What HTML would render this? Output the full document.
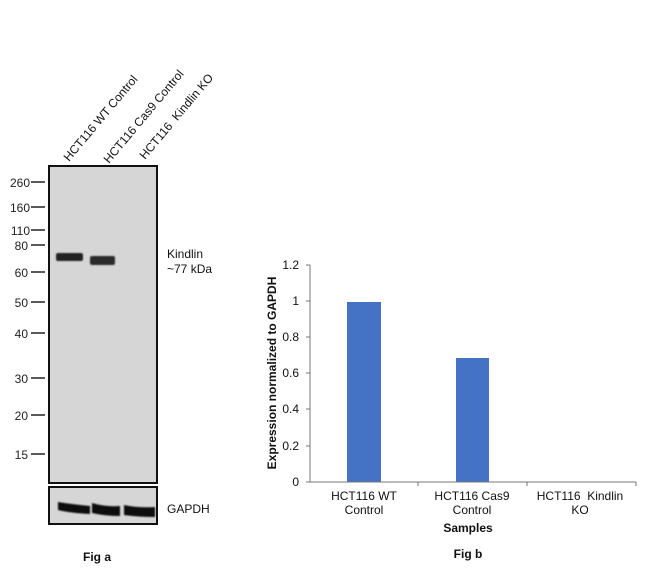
<!DOCTYPE html>
<html><head><style>
body{margin:0;background:#fff;}
svg text{font-family:"Liberation Sans",Arial,sans-serif;}
</style></head><body>
<svg width="650" height="571" viewBox="0 0 650 571" xmlns="http://www.w3.org/2000/svg">
<defs>
<filter id="b1" x="-20%" y="-50%" width="140%" height="200%"><feGaussianBlur stdDeviation="0.9"/></filter>
</defs>
<g font-size="12" fill="#111">
<text transform="translate(69,162) rotate(-50)">HCT116 WT Control</text>
<text transform="translate(109,164) rotate(-50)">HCT116 Cas9 Control</text>
<text transform="translate(145,160) rotate(-50)">HCT116&#160; Kindlin KO</text>
</g>
<rect x="49" y="166" width="108" height="317" fill="#d6d6d6" stroke="#111" stroke-width="2"/>
<g filter="url(#b1)">
<rect x="56" y="253" width="27" height="8" rx="2" fill="#222"/>
<rect x="90" y="256" width="25" height="9" rx="2" fill="#2a2a2a"/>
</g>
<rect x="49" y="487" width="108" height="37" fill="#d6d6d6" stroke="#111" stroke-width="2"/>
<g filter="url(#b1)">
<path d="M58 502 Q70 504 90 506 L90 514 Q70 513 58 510 Z" fill="#111"/>
<path d="M92 503 Q105 507 120 506 L120 516 Q105 516 92 513 Z" fill="#111"/>
<path d="M124 505 Q138 508 155 507 L155 517 Q138 517 124 515 Z" fill="#111"/>
</g>
<g font-size="12" fill="#222" text-anchor="end">
<text x="30" y="187">260</text><text x="30" y="212">160</text><text x="30" y="235">110</text>
<text x="28" y="250">80</text><text x="28" y="277">60</text><text x="28" y="307">50</text>
<text x="28" y="338">40</text><text x="28" y="383">30</text><text x="28" y="420">20</text><text x="28" y="459">15</text>
</g>
<g stroke="#222" stroke-width="1.5">
<line x1="31" y1="182" x2="45" y2="182"/><line x1="31" y1="207" x2="45" y2="207"/>
<line x1="31" y1="230" x2="45" y2="230"/><line x1="31" y1="245" x2="45" y2="245"/>
<line x1="31" y1="272" x2="45" y2="272"/><line x1="31" y1="302" x2="45" y2="302"/>
<line x1="31" y1="333" x2="45" y2="333"/><line x1="31" y1="378" x2="45" y2="378"/>
<line x1="31" y1="415" x2="45" y2="415"/><line x1="31" y1="454" x2="45" y2="454"/>
</g>
<g font-size="12" fill="#111">
<text x="167" y="258">Kindlin</text><text x="167" y="273">~77 kDa</text>
<text x="167" y="513">GAPDH</text>
</g>
<text x="97" y="561" font-size="12" font-weight="bold" text-anchor="middle" fill="#111">Fig a</text>
<rect x="347" y="302" width="34" height="180" fill="#4472c4"/>
<rect x="456" y="358" width="33" height="124" fill="#4472c4"/>
<g stroke="#777" stroke-width="1">
<line x1="310" y1="265" x2="310" y2="482"/>
<line x1="310" y1="482" x2="636" y2="482"/>
<line x1="306" y1="265" x2="310" y2="265"/><line x1="306" y1="301" x2="310" y2="301"/>
<line x1="306" y1="337" x2="310" y2="337"/><line x1="306" y1="373" x2="310" y2="373"/>
<line x1="306" y1="409" x2="310" y2="409"/><line x1="306" y1="446" x2="310" y2="446"/>
<line x1="306" y1="482" x2="310" y2="482"/>
<line x1="418" y1="482" x2="418" y2="486"/><line x1="527" y1="482" x2="527" y2="486"/><line x1="636" y1="482" x2="636" y2="486"/>
</g>
<g font-size="12" fill="#111" text-anchor="end">
<text x="299" y="269">1.2</text><text x="299" y="305">1</text><text x="299" y="341">0.8</text>
<text x="299" y="377">0.6</text><text x="299" y="413">0.4</text><text x="299" y="450">0.2</text><text x="299" y="486">0</text>
</g>
<g font-size="12" fill="#111" text-anchor="middle">
<text x="364" y="500">HCT116 WT</text><text x="364" y="514">Control</text>
<text x="472" y="500">HCT116 Cas9</text><text x="472" y="514">Control</text>
<text x="580" y="500">HCT116&#160; Kindlin</text><text x="580" y="514">KO</text>
<text x="468" y="532" font-weight="bold">Samples</text>
<text x="468" y="558" font-weight="bold">Fig b</text>
<text transform="translate(276,373) rotate(-90)" font-weight="bold">Expression normalized to GAPDH</text>
</g>
</svg>
</body></html>
